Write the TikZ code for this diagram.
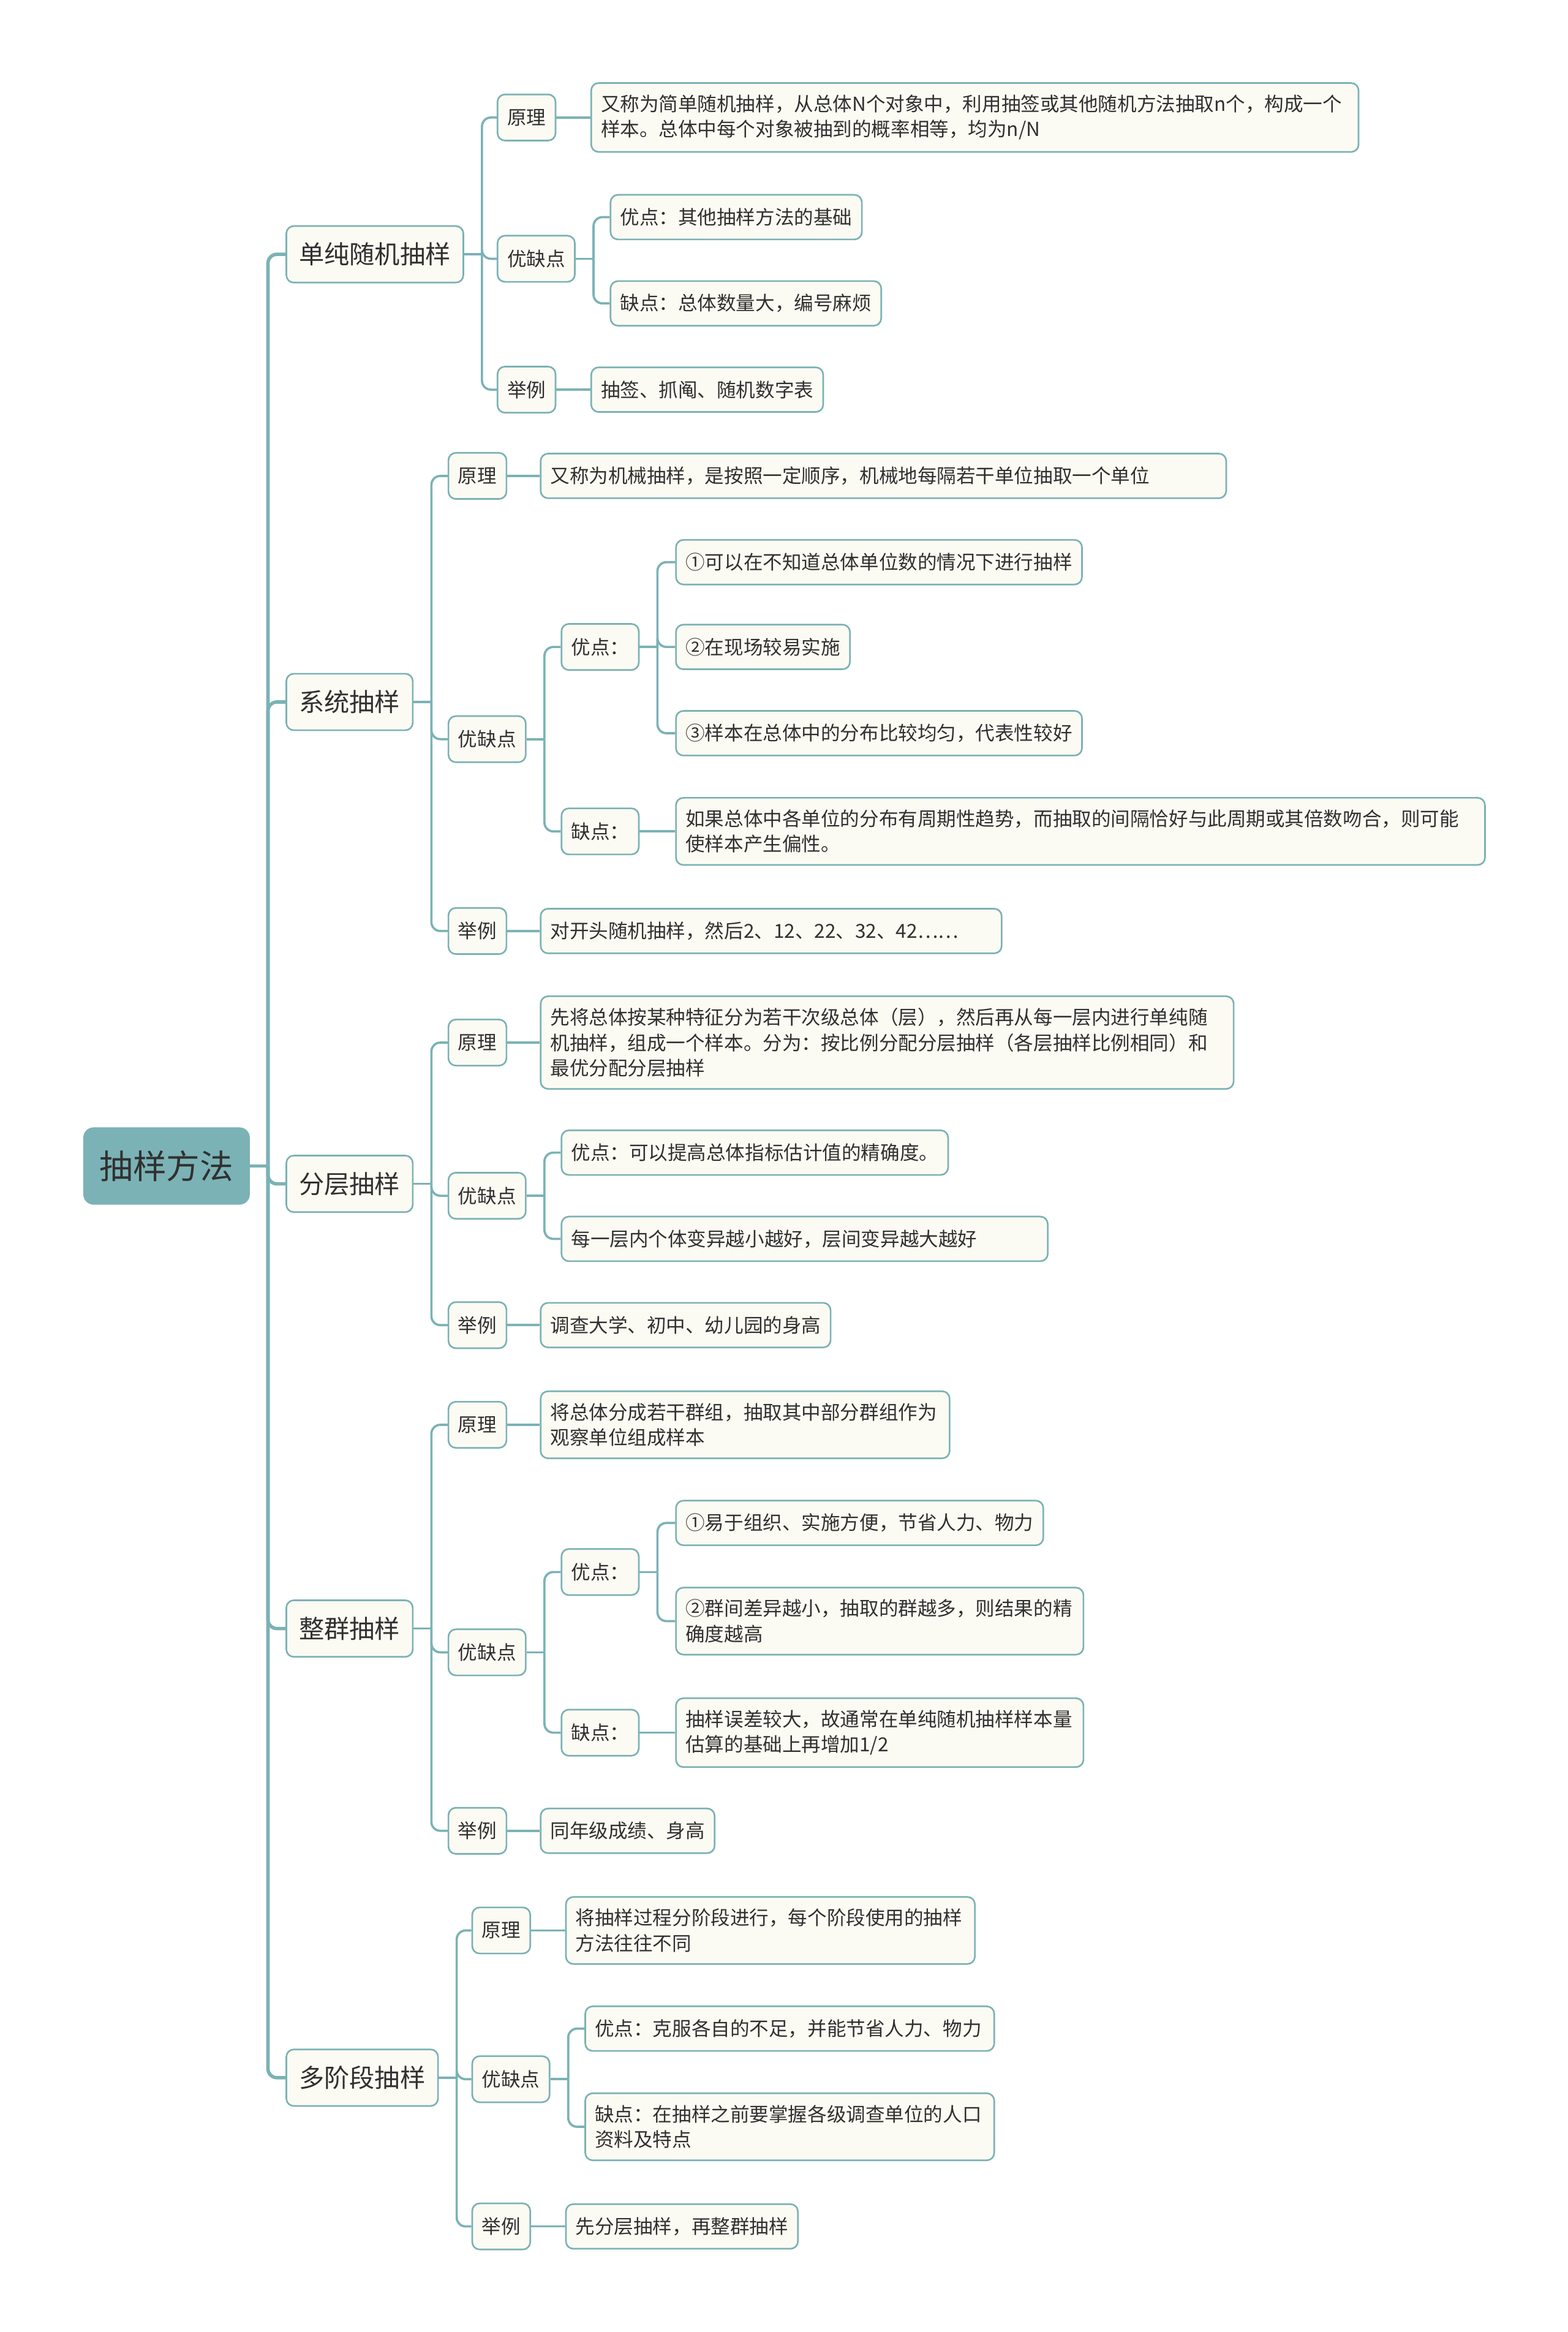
\documentclass[tikz,border=0pt]{standalone}
\usepackage{fontspec}
\setmainfont{Noto Sans CJK SC}
\usepackage{tikz}
\usetikzlibrary{positioning,calc}
\definecolor{MapTeal}{HTML}{7BB2B5}
\definecolor{MapCream}{HTML}{FCFBF3}
\definecolor{MapInk}{HTML}{303030}

% parent -> stub -> rounded branch to each child
\newcommand{\fork}[3][]{%
  \draw[link,#1] (#2.east) -- ++(12,0) coordinate (#2-j);
  \foreach \kid in {#3}{\draw[link,#1,rounded corners=6pt] (#2-j) |- (\kid.west);}
}

\begin{document}
\begin{tikzpicture}[x=1pt, y=-1pt,
  link/.style={MapTeal, line width=1.5pt},
  box/.style={draw=MapTeal, fill=MapCream, line width=1.1pt, rounded corners=5pt, text=MapInk, anchor=west},
  root/.style={fill=MapTeal, rounded corners=7pt, text=MapInk, font=\fontsize{22.5}{27}\selectfont, inner xsep=11pt, minimum height=52pt},
  topic/.style={box, font=\fontsize{17}{21}\selectfont, inner xsep=8.5pt, minimum height=38pt},
  tag/.style={box, font=\fontsize{13}{17}\selectfont, inner xsep=6.5pt, minimum height=31pt},
  leaf/.style={box, font=\fontsize{13}{17}\selectfont, inner xsep=6.5pt, inner ysep=8pt, minimum height=30pt, align=left}]
  \fill[white] (0,0) rectangle (1054,1568);
  \useasboundingbox (0,0) rectangle (1054,1568);

  % root and main topics
  \node[root] (root) at (112,784) {抽样方法};
  \node[topic] (s1) at (192,171) {单纯随机抽样};
  \node[topic] (s2) at (192,472) {系统抽样};
  \node[topic] (s3) at (192,796) {分层抽样};
  \node[topic] (s4) at (192,1095) {整群抽样};
  \node[topic] (s5) at (192,1397) {多阶段抽样};

  % simple random sampling
  \node[tag] (s1a) at (334,79) {原理};
  \node[leaf, text width=503pt] (s1a1) at (397,79) {又称为简单随机抽样，从总体N个对象中，利用抽签或其他随机方法抽取n个，构成一个\\样本。总体中每个对象被抽到的概率相等，均为n/N};
  \node[tag] (s1b) at (334,174) {优缺点};
  \node[leaf] (s1b1) at (410,146) {优点：其他抽样方法的基础};
  \node[leaf] (s1b2) at (410,204) {缺点：总体数量大，编号麻烦};
  \node[tag] (s1c) at (334,262) {举例};
  \node[leaf] (s1c1) at (397,262) {抽签、抓阄、随机数字表};

  % systematic sampling
  \node[tag] (s2a) at (301,320) {原理};
  \node[leaf, text width=448pt] (s2a1) at (363,320) {又称为机械抽样，是按照一定顺序，机械地每隔若干单位抽取一个单位};
  \node[tag] (s2b) at (301,497) {优缺点};
  \node[tag] (s2b1) at (377,435) {优点：};
  \node[leaf] (s2b11) at (454,378) {①可以在不知道总体单位数的情况下进行抽样};
  \node[leaf] (s2b12) at (454,435) {②在现场较易实施};
  \node[leaf] (s2b13) at (454,493) {③样本在总体中的分布比较均匀，代表性较好};
  \node[tag] (s2b2) at (377,559) {缺点：};
  \node[leaf, text width=531pt] (s2b21) at (454,559) {如果总体中各单位的分布有周期性趋势，而抽取的间隔恰好与此周期或其倍数吻合，则可能\\使样本产生偏性。};
  \node[tag] (s2c) at (301,626) {举例};
  \node[leaf, text width=297pt] (s2c1) at (363,626) {对开头随机抽样，然后2、12、22、32、42……};

  % stratified sampling
  \node[tag] (s3a) at (301,701) {原理};
  \node[leaf, text width=453pt] (s3a1) at (363,701) {先将总体按某种特征分为若干次级总体（层），然后再从每一层内进行单纯随\\机抽样，组成一个样本。分为：按比例分配分层抽样（各层抽样比例相同）和\\最优分配分层抽样};
  \node[tag] (s3b) at (301,804) {优缺点};
  \node[leaf] (s3b1) at (377,775) {优点：可以提高总体指标估计值的精确度。};
  \node[leaf, text width=314pt] (s3b2) at (377,833) {每一层内个体变异越小越好，层间变异越大越好};
  \node[tag] (s3c) at (301,891) {举例};
  \node[leaf] (s3c1) at (363,891) {调查大学、初中、幼儿园的身高};

  % cluster sampling
  \node[tag] (s4a) at (301,958) {原理};
  \node[leaf, text width=262pt] (s4a1) at (363,958) {将总体分成若干群组，抽取其中部分群组作为\\观察单位组成样本};
  \node[tag] (s4b) at (301,1111) {优缺点};
  \node[tag] (s4b1) at (377,1057) {优点：};
  \node[leaf] (s4b11) at (454,1024) {①易于组织、实施方便，节省人力、物力};
  \node[leaf, text width=261pt] (s4b12) at (454,1090) {②群间差异越小，抽取的群越多，则结果的精\\确度越高};
  \node[tag] (s4b2) at (377,1165) {缺点：};
  \node[leaf, text width=261pt] (s4b21) at (454,1165) {抽样误差较大，故通常在单纯随机抽样样本量\\估算的基础上再增加1/2};
  \node[tag] (s4c) at (301,1231) {举例};
  \node[leaf] (s4c1) at (363,1231) {同年级成绩、身高};

  % multistage sampling
  \node[tag] (s5a) at (317,1298) {原理};
  \node[leaf, text width=262pt] (s5a1) at (380,1298) {将抽样过程分阶段进行，每个阶段使用的抽样\\方法往往不同};
  \node[tag] (s5b) at (317,1398) {优缺点};
  \node[leaf, text width=262pt] (s5b1) at (393,1364) {优点：克服各自的不足，并能节省人力、物力};
  \node[leaf, text width=262pt] (s5b2) at (393,1430) {缺点：在抽样之前要掌握各级调查单位的人口\\资料及特点};
  \node[tag] (s5c) at (317,1497) {举例};
  \node[leaf] (s5c1) at (380,1497) {先分层抽样，再整群抽样};

  % branches
  \fork[line width=2.3pt]{root}{s1,s2,s3,s4,s5}
  \fork{s1}{s1a,s1b,s1c}
  \fork{s1b}{s1b1,s1b2}
  \fork{s2}{s2a,s2b,s2c}
  \fork{s2b}{s2b1,s2b2}
  \fork{s2b1}{s2b11,s2b12,s2b13}
  \fork{s3}{s3a,s3b,s3c}
  \fork{s3b}{s3b1,s3b2}
  \fork{s4}{s4a,s4b,s4c}
  \fork{s4b}{s4b1,s4b2}
  \fork{s4b1}{s4b11,s4b12}
  \fork{s5}{s5a,s5b,s5c}
  \fork{s5b}{s5b1,s5b2}
  % single leaves
  \foreach \p/\q in {s1a/s1a1,s1c/s1c1,s2a/s2a1,s2b2/s2b21,s2c/s2c1,
    s3a/s3a1,s3c/s3c1,s4a/s4a1,s4b2/s4b21,s4c/s4c1,s5a/s5a1,s5c/s5c1}
    \draw[link] (\p.east) -- (\q.west);
\end{tikzpicture}
\end{document}
